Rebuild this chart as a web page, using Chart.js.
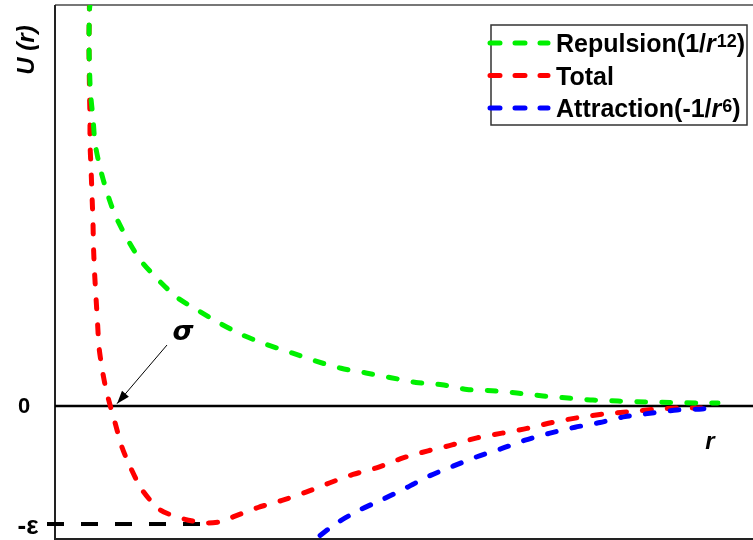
<!DOCTYPE html>
<html><head><meta charset="utf-8">
<script src="https://cdn.jsdelivr.net/npm/chart.js@4.4.0/dist/chart.umd.min.js"></script>
<style>html,body{margin:0;padding:0;background:#fff}#wrap{width:753px;height:540px;position:relative}</style>
</head><body><div id="wrap"><canvas id="c"></canvas></div>
<script>
// Series names
const seriesNames = ['Repulsion', 'Total', 'Attraction'];
// Repulsion (1/r^12) curve: r values and U values (ε units)
const rRep = [0.355,0.345,0.34,0.345,0.355,0.38,0.40,0.45,0.52,0.60,0.72,0.85,1.02,1.22,1.43,1.65,1.88,2.12,2.37,2.61,2.86,3.11,3.36,3.61,3.87,4.12,4.37,4.62,4.88,5.13,5.38,5.63,5.90,6.15,6.41,6.63];
const uRep = [3.44,3.36,3.08,2.86,2.65,2.44,2.23,2.02,1.81,1.62,1.42,1.24,1.08,0.92,0.81,0.70,0.60,0.52,0.45,0.38,0.32,0.28,0.24,0.20,0.18,0.14,0.13,0.11,0.085,0.068,0.05,0.042,0.034,0.03,0.025,0.025];
// Total curve
const rTot = [0.345,0.34,0.345,0.35,0.35,0.36,0.37,0.38,0.385,0.395,0.41,0.425,0.44,0.47,0.51,0.55,0.60,0.67,0.76,0.87,1.05,1.30,1.50,1.67,1.78,2.03,2.27,2.51,2.75,2.98,3.23,3.48,3.73,3.97,4.22,4.47,4.72,4.97,5.22,5.47,5.72,5.97,6.23,6.48,6.57];
const uTot = [3.44,3.08,2.65,2.44,2.23,2.02,1.79,1.55,1.35,1.14,0.92,0.71,0.50,0.32,0.14,0.01,-0.14,-0.35,-0.53,-0.71,-0.88,-0.96,-0.99,-0.98,-0.94,-0.86,-0.80,-0.73,-0.65,-0.58,-0.52,-0.44,-0.38,-0.33,-0.27,-0.23,-0.19,-0.14,-0.10,-0.07,-0.05,-0.03,-0.017,-0.017,-0.01];
// Attraction (-1/r^6) curve
const rAtt = [2.45,2.63,2.82,3.05,3.28,3.52,3.75,3.98,4.22,4.47,4.70,4.95,5.20,5.45,5.70,5.97,6.22,6.47,6.55];
const uAtt = [-1.22,-1.11,-0.99,-0.88,-0.79,-0.69,-0.59,-0.51,-0.43,-0.36,-0.29,-0.23,-0.18,-0.14,-0.09,-0.06,-0.034,-0.025,-0.017];
// Axis tick labels
const tickValues = [0, -1];
const tickLabels = ['0', '-ε'];

const colors = ['#00f000', '#ff0000', '#0000ff'];
const toPts = (xs, ys) => xs.map((x, i) => ({x: x, y: ys[i]}));
const FONT = '"Liberation Sans", Arial, sans-serif';

const dsStyle = (c) => ({borderColor: c, backgroundColor: c, borderWidth: 5, borderDash: [9, 16],
  borderCapStyle: 'round', borderJoinStyle: 'round', pointRadius: 0, showLine: true, tension: 0.25, fill: false});

const deco = {
  id: 'deco',
  beforeDatasetsDraw(chart) {
    const {ctx, chartArea: a, scales: {x, y}} = chart;
    ctx.save();
    ctx.strokeStyle = '#777'; ctx.lineWidth = 2;
    ctx.beginPath(); ctx.moveTo(a.left, a.top); ctx.lineTo(a.right, a.top); ctx.stroke();
    ctx.strokeStyle = '#222';
    ctx.beginPath(); ctx.moveTo(a.left, a.top); ctx.lineTo(a.left, a.bottom); ctx.lineTo(a.right, a.bottom); ctx.stroke();
    const y0 = y.getPixelForValue(tickValues[0]);
    ctx.strokeStyle = '#000'; ctx.lineWidth = 2.5;
    ctx.beginPath(); ctx.moveTo(a.left, y0); ctx.lineTo(a.right, y0); ctx.stroke();
    const ye = y.getPixelForValue(tickValues[1]);
    ctx.lineWidth = 4; ctx.setLineDash([17, 17]);
    ctx.beginPath(); ctx.moveTo(a.left - 8, ye); ctx.lineTo(x.getPixelForValue(1.45), ye); ctx.stroke();
    ctx.setLineDash([]);
    ctx.restore();
  },
  afterDraw(chart) {
    const {ctx, chartArea: a, scales: {x, y}} = chart;
    ctx.save();
    ctx.fillStyle = '#000';
    ctx.textAlign = 'center'; ctx.textBaseline = 'middle';
    ctx.font = 'bold 22px ' + FONT;
    ctx.fillText(tickLabels[0], 24, y.getPixelForValue(tickValues[0]) + 1);
    ctx.font = 'bold 26px ' + FONT;
    ctx.fillText(tickLabels[1], 28, y.getPixelForValue(tickValues[1]) + 3);
    ctx.save();
    ctx.translate(27, 50); ctx.rotate(-Math.PI / 2);
    ctx.font = 'italic bold 24px ' + FONT;
    ctx.fillText('U (r)', 0, 0);
    ctx.restore();
    ctx.font = 'italic bold 24px ' + FONT;
    ctx.fillText('r', 710, 442);
    ctx.font = 'italic bold 27px "DejaVu Sans", ' + FONT;
    ctx.fillText('σ', 183, 333);
    const tx = x.getPixelForValue(0.62), ty = y.getPixelForValue(0.02);
    const sx = 167, sy = 345;
    ctx.strokeStyle = '#000'; ctx.lineWidth = 1;
    ctx.beginPath(); ctx.moveTo(sx, sy); ctx.lineTo(tx, ty); ctx.stroke();
    const ang = Math.atan2(ty - sy, tx - sx), L = 13, W = 4.5;
    ctx.beginPath();
    ctx.moveTo(tx, ty);
    ctx.lineTo(tx - L * Math.cos(ang) + W * Math.sin(ang), ty - L * Math.sin(ang) - W * Math.cos(ang));
    ctx.lineTo(tx - L * Math.cos(ang) - W * Math.sin(ang), ty - L * Math.sin(ang) + W * Math.cos(ang));
    ctx.closePath(); ctx.fill();
    // legend
    ctx.fillStyle = '#fff'; ctx.fillRect(491, 25, 256, 100);
    ctx.strokeStyle = '#333'; ctx.lineWidth = 1.5; ctx.strokeRect(491, 25, 256, 100);
    const rows = [
      [['Repulsion(1/', 'n'], ['r', 'i'], ['12', 's'], [')', 'n']],
      [['Total', 'n']],
      [['Attraction(-1/', 'n'], ['r', 'i'], ['6', 's'], [')', 'n']]
    ];
    [0, 1, 2].forEach((di, k) => {
      const base = 52 + k * 32.5;
      const ly = base - 9;
      ctx.strokeStyle = colors[di]; ctx.lineWidth = 5; ctx.lineCap = 'round'; ctx.setLineDash([10, 15]);
      ctx.beginPath(); ctx.moveTo(490, ly); ctx.lineTo(548, ly); ctx.stroke();
      ctx.setLineDash([]);
      ctx.fillStyle = '#000'; ctx.textAlign = 'left'; ctx.textBaseline = 'alphabetic';
      let cx = 556;
      rows[k].forEach(([t, s]) => {
        let yy = base;
        if (s === 'n') ctx.font = 'bold 25px ' + FONT;
        else if (s === 'i') ctx.font = 'italic bold 25px ' + FONT;
        else { ctx.font = 'bold 18px ' + FONT; yy = base - 5; }
        ctx.fillText(t, cx, yy);
        cx += ctx.measureText(t).width + (s === 'i' ? 1 : 0);
      });
    });
    ctx.restore();
  }
};

new Chart(document.getElementById('c'), {
  type: 'scatter',
  data: {
    datasets: [
      Object.assign({label: seriesNames[0], data: toPts(rRep, uRep), order: 0}, dsStyle(colors[0])),
      Object.assign({label: seriesNames[1], data: toPts(rTot, uTot), order: 2}, dsStyle(colors[1])),
      Object.assign({label: seriesNames[2], data: toPts(rAtt, uAtt), order: 1}, dsStyle(colors[2]))
    ]
  },
  options: {
    responsive: true, maintainAspectRatio: false, animation: false,
    layout: {padding: {left: 55, top: 5, right: 0, bottom: 1}},
    plugins: {legend: {display: false}, tooltip: {enabled: false}},
    scales: {
      x: {type: 'linear', display: false, min: 0, max: 6.98},
      y: {type: 'linear', display: false, min: -1.127, max: 3.398}
    }
  },
  plugins: [deco]
});
</script></body></html>
